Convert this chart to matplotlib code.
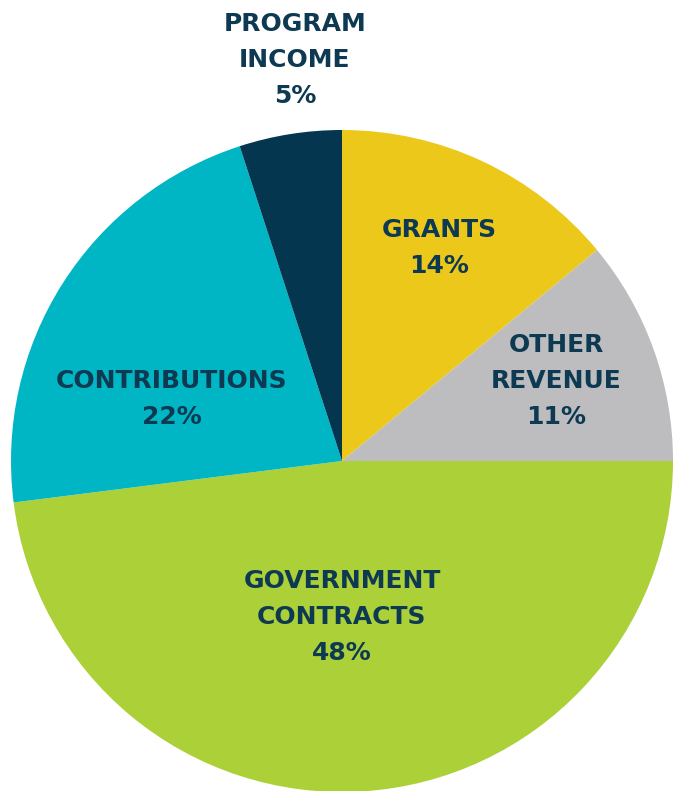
import matplotlib.pyplot as plt

categories = ["GRANTS", "OTHER\nREVENUE", "GOVERNMENT\nCONTRACTS", "CONTRIBUTIONS", "PROGRAM\nINCOME"]
shares = [14, 11, 48, 22, 5]
colors = ["#ECC81B", "#BDBDBF", "#ACD037", "#00B6C4", "#04364F"]

# label centres in pie units (radius = 1)
label_pos = [(0.293, 0.644), (0.647, 0.242), (0.0, -0.471), (-0.514, 0.187), (-0.142, 1.211)]

fig = plt.figure(figsize=(6.73, 7.91), dpi=100)
ax = fig.add_axes([0, 0, 1, 1])
ax.pie(shares, colors=colors, startangle=90, counterclock=False, radius=1,
       wedgeprops=dict(linewidth=0))
ax.set_xlim(-342 / 331, (673 - 342) / 331)
ax.set_ylim(-(791 - 461) / 331, 461 / 331)
ax.set_aspect("auto")
ax.axis("off")

for cat, val, (x, y) in zip(categories, shares, label_pos):
    ax.text(x, y, f"{cat}\n{val}%", ha="center", va="center", multialignment="center",
            fontsize=18, fontweight="bold", family="DejaVu Sans", color="#0D3A52",
            linespacing=1.62)

fig.savefig("out.png", dpi=100)
